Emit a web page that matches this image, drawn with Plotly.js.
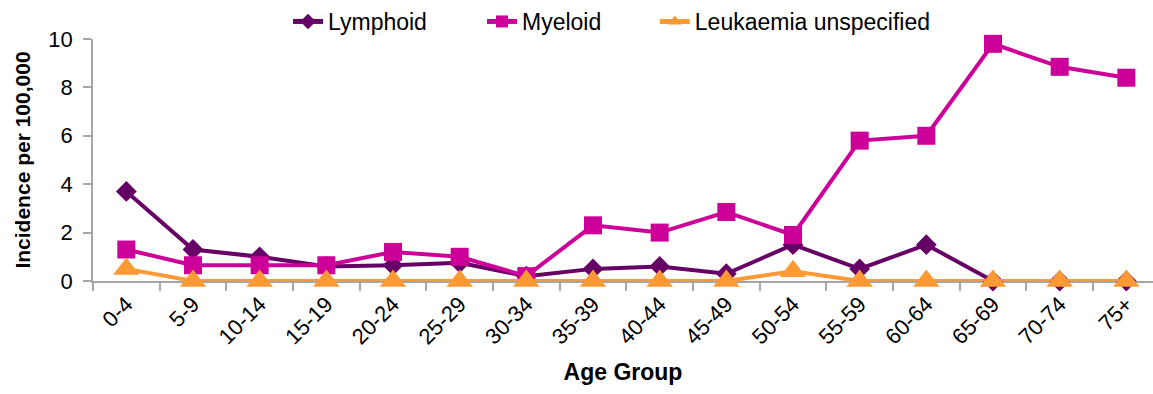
<!DOCTYPE html>
<html><head><meta charset="utf-8">
<script src="https://cdn.plot.ly/plotly-3.0.1.min.js"></script>
<style>html,body{margin:0;padding:0;background:#fff}#c{width:1153px;height:394px}</style>
</head><body><div id="c"></div>
<script>
const categories = ["0-4","5-9","10-14","15-19","20-24","25-29","30-34","35-39","40-44","45-49","50-54","55-59","60-64","65-69","70-74","75+"];
const lymphoid = [3.7,1.3,1.0,0.6,0.65,0.75,0.2,0.5,0.6,0.3,1.5,0.5,1.5,0,0,0];
const myeloid = [1.3,0.65,0.65,0.65,1.2,1.0,0.2,2.3,2.0,2.85,1.9,5.8,6.0,9.8,8.85,8.4];
const unspecified = [0.5,0,0,0,0,0,0,0,0,0,0.4,0,0,0,0,0];
const seriesNames = ["Lymphoid","Myeloid","Leukaemia unspecified"];

const font = "Liberation Sans, Arial, sans-serif";
const traces = [
  {x:categories,y:lymphoid,name:seriesNames[0],legend:"legend",mode:"lines+markers",cliponaxis:false,line:{color:"#660066",width:4},marker:{symbol:"diamond",size:16,color:"#660066"}},
  {x:categories,y:myeloid,name:seriesNames[1],legend:"legend2",mode:"lines+markers",cliponaxis:false,line:{color:"#CC0099",width:4},marker:{symbol:"square",size:18,color:"#CC0099"}},
  {x:categories,y:unspecified,name:seriesNames[2],legend:"legend3",mode:"lines+markers",cliponaxis:false,line:{color:"#FF9933",width:4},marker:{symbol:"triangle-up",size:23,color:"#FF9933",line:{width:0}}}
];
const lg = (x) => ({x:x,xanchor:"left",y:0.985,yanchor:"bottom",orientation:"h",itemsizing:"constant",font:{size:23},bgcolor:"rgba(0,0,0,0)",borderwidth:0});
const layout = {
  width:1153,height:394,
  margin:{l:93,r:0,t:38,b:113},
  paper_bgcolor:"#fff",plot_bgcolor:"#fff",
  font:{family:font,color:"#000",size:21},
  showlegend:true,
  legend:lg(0.184),
  legend2:lg(0.367),
  legend3:lg(0.530),
  xaxis:{type:"category",range:[-0.5,15.4],showline:true,linecolor:"#A6A6A6",linewidth:1.5,ticks:"outside",tickson:"boundaries",ticklen:8,tickcolor:"#A6A6A6",tickwidth:1.5,
    layer:"below traces",tickangle:-45,tickfont:{size:22},showgrid:false,zeroline:false,
    title:{text:"<b>Age Group</b>",font:{size:23},standoff:16}},
  yaxis:{range:[-0.001,10],tickvals:[0,2,4,6,8,10],showline:true,linecolor:"#A6A6A6",linewidth:1.5,ticks:"outside",ticklen:8,tickcolor:"#A6A6A6",tickwidth:1.5,
    ticklabelstandoff:6,layer:"below traces",tickfont:{size:22},showgrid:false,zeroline:false,
    title:{text:"<b>Incidence per 100,000</b>",font:{size:21},standoff:12}}
};
Plotly.newPlot("c",traces,layout,{displayModeBar:false});
</script></body></html>
